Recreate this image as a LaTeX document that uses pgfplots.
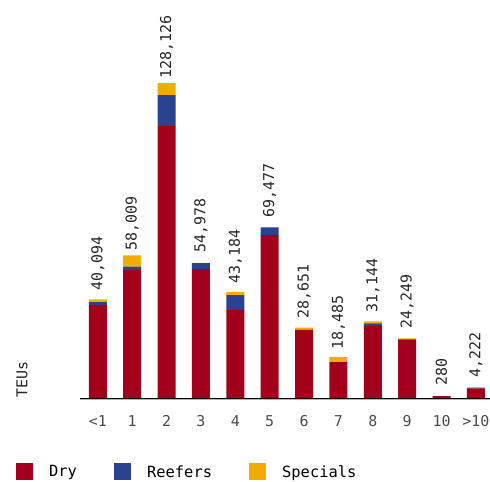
\documentclass[border=0pt]{standalone}
\usepackage{fontspec}
\setmainfont{DejaVu Sans Mono}
\usepackage{pgfplots}
\usepackage{pgfplotstable}
\pgfplotsset{compat=1.18}

\definecolor{dryred}{HTML}{A3001C}
\definecolor{reefblue}{HTML}{2A428F}
\definecolor{specyel}{HTML}{F2AC00}
\definecolor{ticktxt}{HTML}{4A4A4A}

% TEUs by category (dry / reefers / specials)
\pgfplotstableread{
x dry reef spec lab
0 37800 1200 1094 40,094
1 52049 1460 4500 58,009
2 110600 12700 4826 128,126
3 52460 2400 118 54,978
4 35800 6100 1284 43,184
5 66300 3157 20 69,477
6 27700 0 951 28,651
7 14640 0 2030 18,485
8 29280 1064 800 31,144
9 23849 0 400 24,249
10 780 0 20 280
11 3922 280 20 4,222
}\teus

\begin{document}
\begin{tikzpicture}
\useasboundingbox (0,0) rectangle (490bp,482bp);
\begin{axis}[
  at={(80bp,84bp)}, anchor=south west,
  scale only axis,
  width=410bp, height=344bp,
  ybar stacked,
  bar width=18bp,
  xmin=-0.52, xmax=11.41,
  ymin=0, ymax=140000,
  axis x line*=bottom,
  axis y line=none,
  axis line style={black, line width=1bp},
  xtick={0,...,11},
  xticklabels={<1,1,2,3,4,5,6,7,8,9,10,>10},
  major tick length=0pt,
  xticklabel style={font=\fontsize{15}{17}\selectfont, text=ticktxt, inner sep=0pt, yshift=-17bp},
  clip=false,
  legend columns=3,
  legend style={
    at={(-0.1635,-0.215)}, anchor=west,
    draw=none, fill=none,
    font=\fontsize{15.5}{17}\selectfont,
    nodes={inner sep=0pt, anchor=west},
    /tikz/every odd column/.append style={column sep=16bp},
    /tikz/every even column/.append style={column sep=37bp},
  },
]
\addplot[fill=dryred, draw=none,
  legend image code/.code={\fill[dryred] (0bp,-8.5bp) rectangle (17bp,8.5bp);}]
  table[x=x, y=dry] {\teus};
\addlegendentry{Dry}
\addplot[fill=reefblue, draw=none,
  legend image code/.code={\fill[reefblue] (0bp,-8.5bp) rectangle (17bp,8.5bp);}]
  table[x=x, y=reef] {\teus};
\addlegendentry{Reefers}
\addplot[fill=specyel, draw=none,
  legend image code/.code={\fill[specyel] (0bp,-8.5bp) rectangle (17bp,8.5bp);},
  nodes near coords,
  point meta=explicit symbolic,
  every node near coord/.append style={rotate=90, anchor=west, inner sep=0pt, inner xsep=10bp,
    font=\fontsize{15}{17}\selectfont, text=black!85}]
  table[x=x, y=spec, meta=lab] {\teus};
\addlegendentry{Specials}

\draw[black!30, line width=0.8bp] ([yshift=-1.2bp]rel axis cs:0,0) -- ([yshift=-1.2bp]rel axis cs:1,0);
\node[rotate=90, anchor=west, inner sep=0pt, font=\fontsize{15}{17}\selectfont, text=black!85]
  at (axis description cs:-0.1415,0) {TEUs};
\end{axis}
\end{tikzpicture}
\end{document}
